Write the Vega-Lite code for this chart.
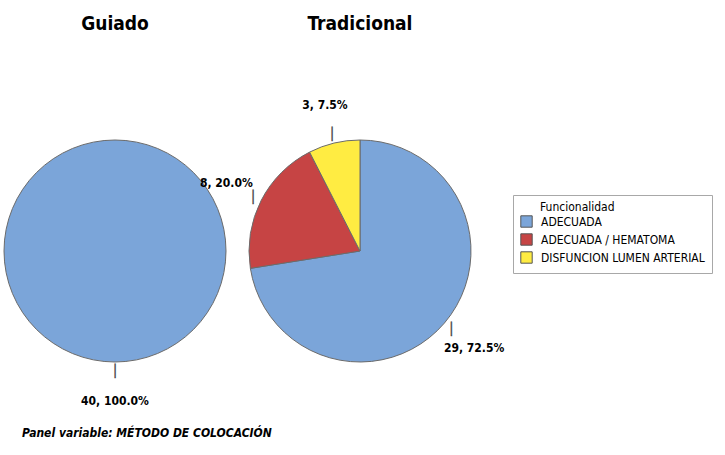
{
  "$schema": "https://vega.github.io/schema/vega-lite/v6.json",
  "padding": {"left": 0, "top": 15, "right": 5, "bottom": 5},
  "bounds": "flush",
  "data": {
    "values": [
      {"metodo": "Guiado", "funcionalidad": "ADECUADA", "n": 40, "etiqueta": "40, 100.0%"},
      {"metodo": "Tradicional", "funcionalidad": "ADECUADA", "n": 29, "etiqueta": "29, 72.5%"},
      {"metodo": "Tradicional", "funcionalidad": "ADECUADA / HEMATOMA", "n": 8, "etiqueta": "8, 20.0%"},
      {"metodo": "Tradicional", "funcionalidad": "DISFUNCION LUMEN ARTERIAL", "n": 3, "etiqueta": "3, 7.5%"}
    ]
  },
  "title": {
    "text": "Panel variable: MÉTODO DE COLOCACIÓN",
    "orient": "bottom",
    "anchor": "start",
    "dx": 22,
    "offset": 21,
    "font": "DejaVu Sans Condensed, Liberation Sans",
    "fontSize": 12,
    "fontStyle": "italic",
    "fontWeight": "bold",
    "color": "#000"
  },
  "facet": {
    "column": {
      "field": "metodo",
      "type": "nominal",
      "sort": ["Guiado", "Tradicional"],
      "title": null,
      "header": {
        "labelFont": "DejaVu Sans Condensed, Liberation Sans",
        "labelFontSize": 19,
        "labelFontWeight": "bold",
        "labelColor": "#000",
        "labelPadding": 67
      }
    }
  },
  "spacing": 15,
  "resolve": {"scale": {"theta": "independent"}},
  "spec": {
    "width": 230,
    "height": 300,
    "encoding": {
      "theta": {"field": "n", "type": "quantitative", "stack": true},
      "order": {"field": "funcionalidad", "type": "ordinal", "sort": "ascending"}
    },
    "layer": [
      {
        "mark": {"type": "arc", "outerRadius": 111, "stroke": "#6b6b6b", "strokeWidth": 1},
        "encoding": {
          "color": {
            "field": "funcionalidad",
            "type": "nominal",
            "title": "Funcionalidad",
            "scale": {
              "domain": ["ADECUADA", "ADECUADA / HEMATOMA", "DISFUNCION LUMEN ARTERIAL"],
              "range": ["#7ba5d9", "#c64444", "#ffec42"]
            },
            "legend": {
              "orient": "none",
              "legendX": 513,
              "legendY": 94,
              "encode": {"title": {"update": {"dx": {"value": 20}}}}
            }
          }
        }
      },
      {
        "mark": {
          "type": "text",
          "radius": 120,
          "fontSize": 12,
          "color": "#444",
          "stroke": "#444",
          "strokeWidth": 0.4,
          "font": "DejaVu Sans"
        },
        "encoding": {"text": {"value": "│"}}
      },
      {
        "mark": {
          "type": "text",
          "radius": 150,
          "font": "DejaVu Sans Condensed, Liberation Sans",
          "fontSize": 12,
          "fontWeight": "bold",
          "color": "#000"
        },
        "encoding": {"text": {"field": "etiqueta"}}
      }
    ]
  },
  "config": {
    "view": {"stroke": null},
    "legend": {
      "strokeColor": "#a8a8a8",
      "padding": 7,
      "symbolType": "square",
      "symbolSize": 130,
      "symbolStrokeColor": "#555",
      "symbolStrokeWidth": 1,
      "symbolOpacity": 1,
      "labelOffset": 8,
      "labelFont": "DejaVu Sans Condensed, Liberation Sans",
      "labelFontSize": 12,
      "labelColor": "#000",
      "titleFont": "DejaVu Sans Condensed, Liberation Sans",
      "titleFontSize": 12,
      "titleFontWeight": "normal",
      "titleColor": "#000",
      "titlePadding": 1,
      "rowPadding": 1,
      "labelLimit": 300
    }
  }
}
